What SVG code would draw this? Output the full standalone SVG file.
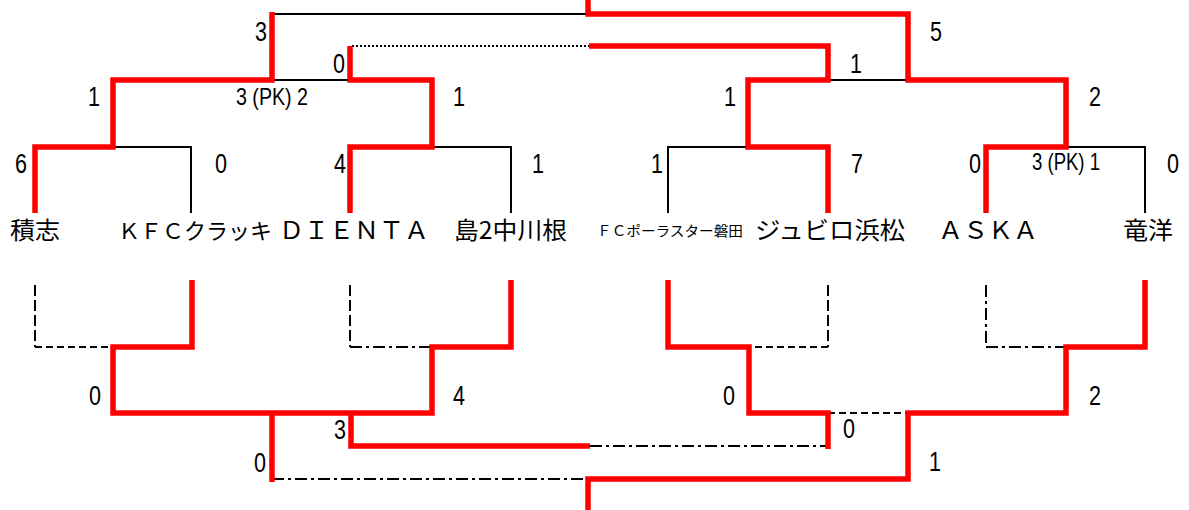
<svg xmlns="http://www.w3.org/2000/svg" width="1189" height="510" viewBox="0 0 1189 510">
<style>
.bg{fill:#ffffff}
.red{fill:none;stroke:#ff0000;stroke-width:5.5;stroke-linejoin:miter;stroke-linecap:butt}
.blk{fill:none;stroke:#000000;stroke-width:2}
.dot{fill:none;stroke:#000000;stroke-width:2;stroke-dasharray:2,2}
.dash{fill:none;stroke:#000000;stroke-width:2;stroke-dasharray:7,4}
.ldash{fill:none;stroke:#000000;stroke-width:2;stroke-dasharray:11,4}
.dd{fill:none;stroke:#000000;stroke-width:2;stroke-dasharray:12,4,3,4}
.team{font-family:"Noto Sans CJK JP","Noto Sans",sans-serif;font-size:24px;fill:#000}
.score{font-family:"Liberation Sans","Noto Sans CJK JP",sans-serif;font-size:27px;fill:#000;text-anchor:middle}
.pk{font-family:"Liberation Sans","Noto Sans CJK JP",sans-serif;font-size:24px;fill:#000;text-anchor:middle}
</style>
<rect class="bg" x="0" y="0" width="1189" height="510"/>
<g id="connectors">
  <!-- top bracket: black -->
  <path class="blk" d="M191,213 V147 H113"/>
  <path class="blk" d="M511,213 V147 H432"/>
  <path class="blk" d="M668,213 V147 H748"/>
  <path class="blk" d="M1145,213 V147 H1066"/>
  <path class="blk" d="M272,80 H350"/>
  <path class="blk" d="M828,80 H908"/>
  <path class="blk" d="M272,14 H588"/>
  <path class="dot" d="M352,46 H590"/>
  <!-- top bracket: red -->
  <path class="red" d="M35,213 V147 H113 V80 H272 V12"/>
  <path class="red" d="M350,213 V147 H432 V80 H350 V46"/>
  <path class="red" d="M828,213 V147 H748 V80 H828 V46 H589"/>
  <path class="red" d="M986,213 V147 H1066 V80 H908 V14 H588 V0"/>
  <!-- bottom bracket: black -->
  <path class="ldash" d="M35,285 V347"/>
  <path class="dash" d="M35,347 H113"/>
  <path class="ldash" d="M350,285 V347"/>
  <path class="dd" d="M350,347 H432"/>
  <path class="ldash" d="M828,285 V347"/>
  <path class="dash" d="M828,347 H749"/>
  <path class="dd" d="M986,285 V347"/>
  <path class="dd" d="M986,347 H1066"/>
  <path class="dash" d="M828,413 H908"/>
  <path class="dd" d="M590,446 H828"/>
  <path class="dd" d="M272,479 H588"/>
  <!-- bottom bracket: red -->
  <path class="red" d="M192,280 V347 H113 V413 H432 V347 H511 V280"/>
  <path class="red" d="M272,413 V482"/>
  <path class="red" d="M351,413 V446 H590"/>
  <path class="red" d="M668,280 V347 H749 V413 H828 V449"/>
  <path class="red" d="M1145,280 V347 H1066 V413 H908 V479 H588 V510"/>
</g>
<g id="team-sekishi"><text class="team" x="10" y="239" textLength="50" lengthAdjust="spacingAndGlyphs">積志</text></g>
<g id="team-kfc"><text class="team" x="118" y="239" style="font-size:22px" textLength="154" lengthAdjust="spacingAndGlyphs">ＫＦＣクラッキ</text></g>
<g id="team-dienta"><text class="team" x="279" y="239" textLength="150" lengthAdjust="spacingAndGlyphs">ＤＩＥＮＴＡ</text></g>
<g id="team-shima2"><text class="team" x="454" y="239" textLength="113" lengthAdjust="spacingAndGlyphs">島2中川根</text></g>
<g id="team-fcpolaster"><text class="team" x="597" y="236" style="font-size:14px" textLength="146" lengthAdjust="spacingAndGlyphs">ＦＣポーラスター磐田</text></g>
<g id="team-jubilo"><text class="team" x="755" y="239" textLength="150" lengthAdjust="spacingAndGlyphs">ジュビロ浜松</text></g>
<g id="team-aska"><text class="team" x="938" y="239" textLength="100" lengthAdjust="spacingAndGlyphs">ＡＳＫＡ</text></g>
<g id="team-ryuyo"><text class="team" x="1123" y="239" textLength="50" lengthAdjust="spacingAndGlyphs">竜洋</text></g>
<g id="scores">
  <text class="score" x="261" y="41" textLength="12" lengthAdjust="spacingAndGlyphs">3</text>
  <text class="score" x="936" y="41" textLength="12" lengthAdjust="spacingAndGlyphs">5</text>
  <text class="score" x="339" y="73" textLength="12" lengthAdjust="spacingAndGlyphs">0</text>
  <text class="score" x="856" y="73" textLength="12" lengthAdjust="spacingAndGlyphs">1</text>
  <text class="score" x="94" y="106" textLength="12" lengthAdjust="spacingAndGlyphs">1</text>
  <text class="pk" x="272" y="105" textLength="72" lengthAdjust="spacingAndGlyphs">3 (PK) 2</text>
  <text class="score" x="459" y="106" textLength="12" lengthAdjust="spacingAndGlyphs">1</text>
  <text class="score" x="730" y="106" textLength="12" lengthAdjust="spacingAndGlyphs">1</text>
  <text class="score" x="1095" y="106" textLength="12" lengthAdjust="spacingAndGlyphs">2</text>
  <text class="score" x="21" y="173" textLength="12" lengthAdjust="spacingAndGlyphs">6</text>
  <text class="score" x="221" y="173" textLength="12" lengthAdjust="spacingAndGlyphs">0</text>
  <text class="score" x="340" y="173" textLength="12" lengthAdjust="spacingAndGlyphs">4</text>
  <text class="score" x="538" y="173" textLength="12" lengthAdjust="spacingAndGlyphs">1</text>
  <text class="score" x="657" y="173" textLength="12" lengthAdjust="spacingAndGlyphs">1</text>
  <text class="score" x="857" y="173" textLength="12" lengthAdjust="spacingAndGlyphs">7</text>
  <text class="score" x="975" y="173" textLength="12" lengthAdjust="spacingAndGlyphs">0</text>
  <text class="pk" x="1066" y="170" textLength="68" lengthAdjust="spacingAndGlyphs">3 (PK) 1</text>
  <text class="score" x="1173" y="173" textLength="12" lengthAdjust="spacingAndGlyphs">0</text>
  <text class="score" x="95" y="405" textLength="12" lengthAdjust="spacingAndGlyphs">0</text>
  <text class="score" x="459" y="405" textLength="12" lengthAdjust="spacingAndGlyphs">4</text>
  <text class="score" x="729" y="405" textLength="12" lengthAdjust="spacingAndGlyphs">0</text>
  <text class="score" x="1095" y="405" textLength="12" lengthAdjust="spacingAndGlyphs">2</text>
  <text class="score" x="340" y="439" textLength="12" lengthAdjust="spacingAndGlyphs">3</text>
  <text class="score" x="849" y="438" textLength="12" lengthAdjust="spacingAndGlyphs">0</text>
  <text class="score" x="260" y="472" textLength="12" lengthAdjust="spacingAndGlyphs">0</text>
  <text class="score" x="935" y="471" textLength="12" lengthAdjust="spacingAndGlyphs">1</text>
</g>
</svg>
